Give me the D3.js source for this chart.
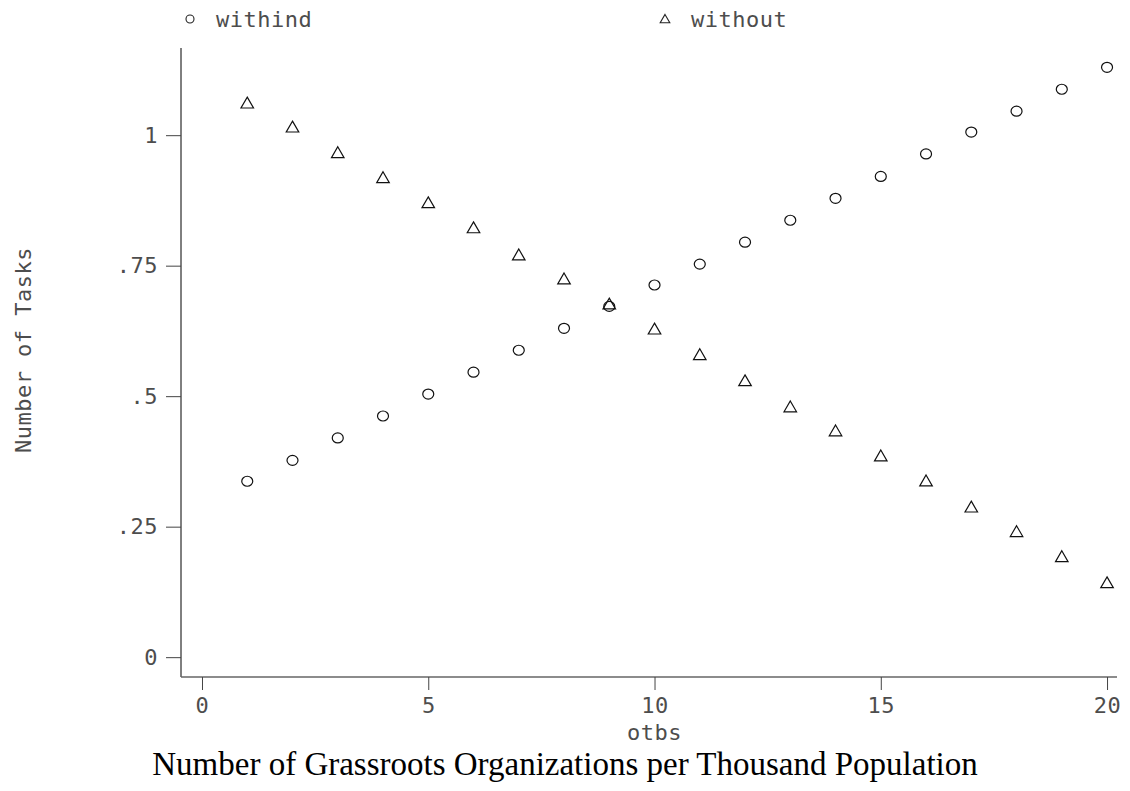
<!DOCTYPE html>
<html>
<head>
<meta charset="utf-8">
<script src="https://cdn.jsdelivr.net/npm/d3@7"></script>
<style>
  body { margin: 0; background: #fff; }
  .stata { font-family: 'DejaVu Sans Mono', monospace; font-size: 22px; fill: #4d4d4d; letter-spacing: 0.5px; }
</style>
</head>
<body>
<svg id="chart" width="1130" height="791"></svg>
<script>
var otbs = [1, 2, 3, 4, 5, 6, 7, 8, 9, 10, 11, 12, 13, 14, 15, 16, 17, 18, 19, 20];
var withind = [0.337, 0.377, 0.420, 0.462, 0.504, 0.546, 0.588, 0.630, 0.672, 0.713,
               0.753, 0.795, 0.837, 0.879, 0.921, 0.964, 1.006, 1.046, 1.088, 1.130];
var without = [1.059, 1.013, 0.964, 0.916, 0.868, 0.820, 0.768, 0.722, 0.674, 0.626,
               0.577, 0.527, 0.477, 0.431, 0.383, 0.335, 0.285, 0.238, 0.190, 0.140];
var xTicks = [0, 5, 10, 15, 20];
var yTicks = [0, 0.25, 0.5, 0.75, 1];
var yTickLabels = ['0', '.25', '.5', '.75', '1'];

var svg = d3.select('#chart');

// axis frame: x from 181 to 1117, y from 48 to 677
var x = d3.scaleLinear().domain([-0.464, 20.22]).range([181, 1117]);
var y = d3.scaleLinear().domain([-0.038, 1.167]).range([677, 48]);

// y axis
var yAxis = svg.append('g').attr('transform', 'translate(181,0)')
               .call(d3.axisLeft(y).tickValues(yTicks).tickSize(15).tickPadding(8)
                       .tickFormat((d, i) => yTickLabels[i]));
yAxis.select('.domain').attr('d', 'M0,' + y.range()[1] + 'V' + y.range()[0]).attr('stroke', '#000');
yAxis.selectAll('.tick line').attr('stroke', '#444');
yAxis.selectAll('.tick text').attr('class', 'stata').attr('fill', null);

// x axis
var xAxis = svg.append('g').attr('transform', 'translate(0,677)')
               .call(d3.axisBottom(x).tickValues(xTicks).tickSize(13).tickPadding(7));
xAxis.select('.domain').attr('d', 'M' + x.range()[0] + ',0H' + x.range()[1]).attr('stroke', '#666').attr('stroke-width', 1.5);
xAxis.selectAll('.tick line').attr('stroke', '#444');
xAxis.selectAll('.tick text').attr('class', 'stata').attr('fill', null);

// axis titles
svg.append('text').attr('class', 'stata').attr('x', x(10)).attr('y', 740)
   .attr('text-anchor', 'middle').text('otbs');
svg.append('text').attr('class', 'stata').attr('transform', 'translate(31,350) rotate(-90)')
   .attr('text-anchor', 'middle').text('Number of Tasks');
svg.append('text').attr('x', 565).attr('y', 775).attr('text-anchor', 'middle')
   .attr('font-family', 'Liberation Serif, Times New Roman, serif').attr('font-size', 33)
   .attr('fill', '#000').text('Number of Grassroots Organizations per Thousand Population');

// markers
var tri = d3.symbol().type(d3.symbolTriangle).size(68);

svg.append('g').selectAll('ellipse').data(otbs).enter().append('ellipse')
   .attr('cx', (d, i) => x(d)).attr('cy', (d, i) => y(withind[i]))
   .attr('rx', 5.5).attr('ry', 5)
   .attr('fill', 'none').attr('stroke', '#111').attr('stroke-width', 1.2);

svg.append('g').selectAll('path').data(otbs).enter().append('path')
   .attr('d', tri)
   .attr('transform', (d, i) => 'translate(' + x(d) + ',' + y(without[i]) + ')')
   .attr('fill', 'none').attr('stroke', '#111').attr('stroke-width', 1.2);

// legend
svg.append('circle').attr('cx', 190).attr('cy', 19).attr('r', 4)
   .attr('fill', 'none').attr('stroke', '#222').attr('stroke-width', 1.1);
svg.append('text').attr('class', 'stata').attr('x', 216).attr('y', 27).text('withind');
svg.append('path').attr('d', d3.symbol().type(d3.symbolTriangle).size(40))
   .attr('transform', 'translate(665,20)')
   .attr('fill', 'none').attr('stroke', '#222').attr('stroke-width', 1.1);
svg.append('text').attr('class', 'stata').attr('x', 691).attr('y', 27).text('without');
</script>
</body>
</html>
